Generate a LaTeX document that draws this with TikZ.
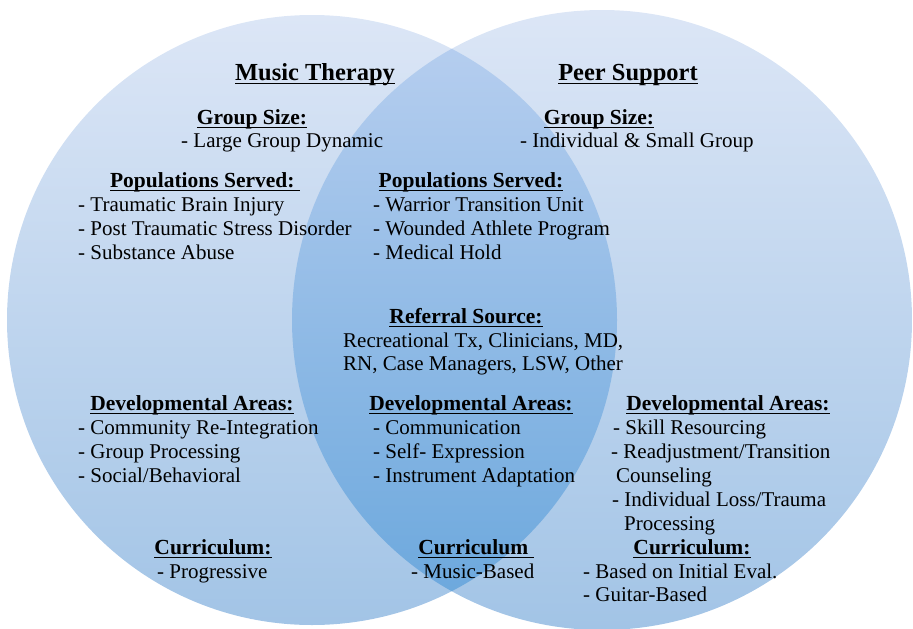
\documentclass[tikz,border=0pt]{standalone}
\usepackage{fontspec}
\setmainfont{Liberation Serif}
\usetikzlibrary{positioning}
\definecolor{vennlight}{RGB}{220,230,246}
\definecolor{venndark}{RGB}{162,196,230}
\definecolor{lenslight}{RGB}{186,208,240}
\definecolor{lensdark}{RGB}{104,166,220}
\newsavebox{\ulnbox}
\newcommand{\uln}[1]{\sbox{\ulnbox}{#1}\rlap{\rule[-4pt]{\wd\ulnbox}{1.1pt}}\usebox{\ulnbox}}

\begin{document}
\begin{tikzpicture}[
    x=1pt, y=-1pt,
    title/.style={font=\fontsize{24.5}{28}\selectfont\bfseries, anchor=base, inner sep=0pt},
    head/.style={font=\fontsize{21.5}{24}\selectfont\bfseries, anchor=base, inner sep=0pt},
    item/.style={font=\fontsize{21}{24}\selectfont, anchor=base west, inner sep=0pt}
]
    \useasboundingbox (0,0) rectangle (913,629);
    % the two circles and their overlap
    \shade[top color=vennlight, bottom color=venndark] (312,320) circle[radius=305];
    \shade[top color=vennlight, bottom color=venndark] (602,320) circle[radius=310];
    \begin{scope}
        \clip (312,320) circle[radius=305];
        \shade[top color=lenslight, bottom color=lensdark] (602,320) circle[radius=310];
    \end{scope}

    \node[title] (mt) at (315,80) {\uln{Music Therapy}};
    \node[title] (ps) at (628,80) {\uln{Peer Support}};

    % group size
    \node[head] (mt-size) at (252,124) {\uln{Group Size:}};
    \node[item] (mt-size-1) at (181,147) {- Large Group Dynamic};
    \node[head] (ps-size) at (599,124) {\uln{Group Size:}};
    \node[item] (ps-size-1) at (520,147) {- Individual \& Small Group};

    % populations
    \node[head] (mt-pop) at (205,187) {\uln{Populations Served:\ }};
    \foreach \t [count=\i] in {Traumatic Brain Injury, Post Traumatic Stress Disorder, Substance Abuse}
        \node[item] (mt-pop-\i) at (78,{187+24*\i}) {- \t};
    \node[head] (both-pop) at (471,187) {\uln{Populations Served:}};
    \foreach \t [count=\i] in {Warrior Transition Unit, Wounded Athlete Program, Medical Hold}
        \node[item] (both-pop-\i) at (373,{187+24*\i}) {- \t};

    % referral
    \node[head] (both-ref) at (466,323) {\uln{Referral Source:}};
    \node[item] (both-ref-1) at (343,347) {Recreational Tx, Clinicians, MD,};
    \node[item] (both-ref-2) at (343,370) {RN, Case Managers, LSW, Other};

    % developmental areas
    \node[head] (mt-dev) at (192,410) {\uln{Developmental Areas:}};
    \foreach \t [count=\i] in {Community Re-Integration, Group Processing, Social/Behavioral}
        \node[item] (mt-dev-\i) at (78,{410+24*\i}) {- \t};
    \node[head] (both-dev) at (471,410) {\uln{Developmental Areas:}};
    \foreach \t [count=\i] in {Communication, Self- Expression, Instrument Adaptation}
        \node[item] (both-dev-\i) at (373,{410+24*\i}) {- \t};
    \node[head] (ps-dev) at (728,410) {\uln{Developmental Areas:}};
    \node[item] (ps-dev-1) at (613,434) {- Skill Resourcing};
    \node[item] (ps-dev-2) at (611,458) {- Readjustment/Transition};
    \node[item] (ps-dev-3) at (616,482) {Counseling};
    \node[item] (ps-dev-4) at (612,506) {- Individual Loss/Trauma};
    \node[item] (ps-dev-5) at (624,530) {Processing};

    % curriculum
    \node[head] (mt-cur) at (213,554) {\uln{Curriculum:}};
    \node[item] (mt-cur-1) at (157,578) {- Progressive};
    \node[head] (both-cur) at (476,554) {\uln{Curriculum\ }};
    \node[item] (both-cur-1) at (411,578) {- Music-Based};
    \node[head] (ps-cur) at (692,554) {\uln{Curriculum:}};
    \node[item] (ps-cur-1) at (583,578) {- Based on Initial Eval.};
    \node[item] (ps-cur-2) at (583,601) {- Guitar-Based};
\end{tikzpicture}
\end{document}
